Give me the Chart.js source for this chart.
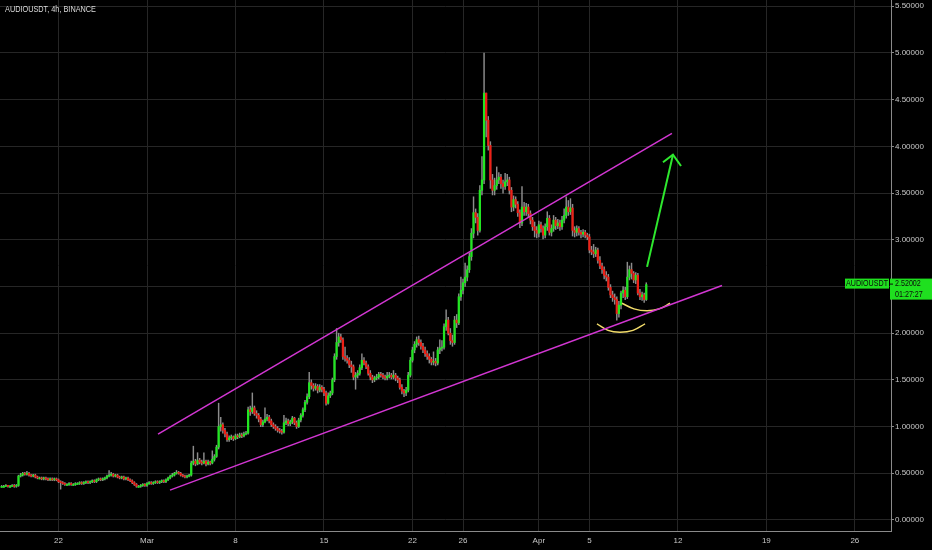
<!DOCTYPE html>
<html>
<head>
<meta charset="utf-8">
<script src="https://cdn.jsdelivr.net/npm/chart.js@4.4.1/dist/chart.umd.min.js"></script>
<style>
  html, body { margin: 0; padding: 0; background: #000; }
  #wrap { position: relative; width: 932px; height: 550px; }
  #title { position: absolute; left: 5px; top: 4px; color: #dcdcdc; font: 8.5px "Liberation Sans", sans-serif; transform: scaleX(0.86); transform-origin: left top; white-space: nowrap; }
</style>
</head>
<body>
<div id="wrap">
  <canvas id="chart" width="932" height="550"></canvas>
  <div id="title">AUDIOUSDT, 4h, BINANCE</div>
</div>
<script>
// days counted from Mar 1 (0 = Mar 1), one candle every 4h
var firstDay = -11.5;
var firstOpen = 0.36;

// 4h closes, one row = one day
var closes = [
  0.36,0.36,0.37,0.36,0.36,0.37,
  0.36,0.37,0.47,0.48,0.50,0.49,
  0.50,0.48,0.47,0.48,0.46,0.45,
  0.45,0.44,0.45,0.44,0.43,0.44,
  0.43,0.44,0.43,0.41,0.40,0.39,
  0.38,0.38,0.39,0.38,0.38,0.39,
  0.39,0.40,0.39,0.40,0.41,0.40,
  0.41,0.42,0.41,0.43,0.44,0.43,
  0.44,0.45,0.47,0.48,0.49,0.47,
  0.48,0.46,0.45,0.46,0.44,0.45,
  0.43,0.42,0.40,0.38,0.36,0.36,
  0.37,0.38,0.37,0.39,0.40,0.39,
  0.40,0.41,0.40,0.41,0.42,0.41,
  0.43,0.45,0.47,0.48,0.50,0.51,
  0.50,0.48,0.47,0.46,0.47,0.48,
  0.61,0.63,0.60,0.64,0.62,0.61,
  0.63,0.60,0.62,0.61,0.65,0.68,
  0.78,1.00,1.02,0.96,0.92,0.86,
  0.88,0.89,0.87,0.90,0.89,0.91,
  0.90,0.92,0.93,1.18,1.16,1.20,
  1.14,1.12,1.08,1.02,1.05,1.08,
  1.10,1.06,1.02,1.00,0.98,0.96,
  0.95,0.94,1.04,1.06,1.03,1.05,
  1.09,1.04,1.00,1.07,1.12,1.18,
  1.26,1.32,1.47,1.44,1.41,1.43,
  1.39,1.42,1.40,1.36,1.25,1.33,
  1.36,1.50,1.75,1.90,1.96,1.93,
  1.75,1.73,1.71,1.66,1.64,1.53,
  1.55,1.57,1.63,1.71,1.68,1.64,
  1.57,1.53,1.50,1.52,1.53,1.56,
  1.55,1.53,1.52,1.54,1.55,1.53,
  1.55,1.52,1.50,1.42,1.38,1.36,
  1.39,1.55,1.71,1.82,1.88,1.93,
  1.90,1.86,1.82,1.78,1.75,1.72,
  1.69,1.70,1.68,1.82,1.84,1.85,
  2.07,2.14,2.00,1.92,1.90,2.14,
  2.11,2.39,2.46,2.54,2.60,2.68,
  2.82,3.07,3.29,3.24,3.10,3.53,
  3.64,4.57,4.28,4.01,3.64,3.53,
  3.58,3.64,3.67,3.60,3.57,3.62,
  3.64,3.53,3.35,3.43,3.38,3.29,
  3.18,3.35,3.30,3.35,3.28,3.21,
  3.14,3.10,3.07,3.16,3.12,3.05,
  3.14,3.23,3.08,3.12,3.21,3.15,
  3.18,3.14,3.21,3.26,3.35,3.30,
  3.34,3.10,3.08,3.12,3.08,3.06,
  3.08,3.05,3.03,2.89,2.87,2.85,
  2.89,2.78,2.72,2.68,2.62,2.60,
  2.49,2.41,2.38,2.36,2.21,2.30,
  2.43,2.46,2.39,2.60,2.68,2.64,
  2.57,2.62,2.43,2.39,2.41,2.36,
  2.52
];

var highs = [
  0.37,0.37,0.38,0.37,0.37,0.38,
  0.38,0.38,0.48,0.50,0.51,0.51,
  0.52,0.51,0.49,0.49,0.49,0.47,
  0.46,0.46,0.46,0.46,0.45,0.45,
  0.45,0.45,0.45,0.44,0.42,0.41,
  0.40,0.39,0.40,0.40,0.39,0.40,
  0.40,0.41,0.41,0.41,0.42,0.42,
  0.42,0.43,0.43,0.44,0.45,0.45,
  0.45,0.46,0.48,0.53,0.51,0.50,
  0.49,0.49,0.47,0.47,0.47,0.46,
  0.46,0.44,0.43,0.41,0.39,0.37,
  0.38,0.39,0.39,0.40,0.41,0.41,
  0.41,0.42,0.42,0.42,0.43,0.43,
  0.44,0.46,0.48,0.50,0.51,0.53,
  0.52,0.51,0.49,0.48,0.48,0.49,
  0.63,0.79,0.65,0.72,0.66,0.64,
  0.72,0.64,0.64,0.63,0.74,0.70,
  0.80,1.25,1.10,1.04,0.98,0.94,
  0.90,0.91,0.90,0.92,0.92,0.93,
  0.93,0.94,0.95,1.21,1.22,1.36,
  1.22,1.17,1.14,1.10,1.07,1.20,
  1.13,1.12,1.08,1.04,1.02,1.00,
  0.98,0.97,1.12,1.09,1.08,1.07,
  1.11,1.10,1.06,1.09,1.14,1.20,
  1.28,1.35,1.58,1.50,1.46,1.46,
  1.45,1.45,1.44,1.42,1.38,1.36,
  1.38,1.52,1.78,2.05,2.00,1.99,
  1.95,1.85,1.76,1.74,1.70,1.66,
  1.58,1.60,1.66,1.78,1.74,1.70,
  1.66,1.60,1.55,1.54,1.56,1.58,
  1.58,1.57,1.55,1.58,1.58,1.57,
  1.60,1.57,1.54,1.52,1.45,1.40,
  1.42,1.58,1.74,1.85,1.91,1.96,
  1.97,1.93,1.89,1.85,1.81,1.78,
  1.74,1.80,1.73,1.85,1.93,1.92,
  2.10,2.25,2.17,2.05,1.98,2.18,
  2.20,2.42,2.60,2.58,2.75,2.72,
  2.86,3.12,3.46,3.33,3.28,3.58,
  3.89,5.00,4.57,4.32,4.05,3.70,
  3.66,3.78,3.72,3.70,3.64,3.71,
  3.70,3.67,3.56,3.47,3.46,3.41,
  3.32,3.57,3.40,3.39,3.38,3.31,
  3.24,3.19,3.14,3.20,3.19,3.15,
  3.17,3.30,3.26,3.16,3.26,3.24,
  3.22,3.21,3.25,3.33,3.46,3.42,
  3.44,3.38,3.14,3.15,3.14,3.10,
  3.11,3.10,3.07,3.06,2.93,2.95,
  2.92,2.91,2.82,2.75,2.71,2.66,
  2.63,2.52,2.45,2.42,2.39,2.34,
  2.45,2.50,2.49,2.76,2.72,2.75,
  2.66,2.65,2.64,2.47,2.44,2.43,
  2.54
];

var lows = [
  0.35,0.35,0.36,0.35,0.35,0.36,
  0.35,0.35,0.36,0.46,0.47,0.48,
  0.48,0.47,0.46,0.46,0.45,0.44,
  0.44,0.43,0.43,0.43,0.42,0.42,
  0.42,0.42,0.42,0.40,0.33,0.38,
  0.37,0.37,0.37,0.37,0.37,0.37,
  0.38,0.38,0.38,0.38,0.39,0.39,
  0.39,0.40,0.40,0.40,0.42,0.42,
  0.42,0.43,0.44,0.46,0.47,0.46,
  0.46,0.45,0.44,0.44,0.43,0.43,
  0.42,0.41,0.39,0.37,0.35,0.35,
  0.35,0.36,0.36,0.36,0.38,0.38,
  0.38,0.39,0.39,0.39,0.40,0.40,
  0.40,0.42,0.44,0.46,0.47,0.49,
  0.49,0.47,0.46,0.45,0.45,0.46,
  0.47,0.59,0.58,0.59,0.60,0.59,
  0.60,0.58,0.59,0.59,0.60,0.63,
  0.67,0.76,0.95,0.93,0.89,0.84,
  0.84,0.86,0.85,0.86,0.87,0.88,
  0.88,0.89,0.91,0.92,1.12,1.14,
  1.12,1.09,1.05,1.00,1.00,1.04,
  1.06,1.04,1.00,0.98,0.96,0.94,
  0.93,0.92,0.93,1.02,1.01,1.01,
  1.03,1.02,0.98,0.99,1.05,1.10,
  1.16,1.24,1.30,1.40,1.38,1.39,
  1.36,1.37,1.37,1.33,1.23,1.24,
  1.31,1.34,1.48,1.72,1.86,1.90,
  1.72,1.70,1.68,1.63,1.58,1.50,
  1.40,1.52,1.55,1.61,1.66,1.62,
  1.55,1.50,1.47,1.48,1.50,1.51,
  1.53,1.51,1.50,1.50,1.52,1.51,
  1.51,1.49,1.47,1.40,1.35,1.32,
  1.33,1.37,1.53,1.69,1.79,1.85,
  1.87,1.83,1.79,1.75,1.72,1.68,
  1.66,1.66,1.65,1.66,1.78,1.81,
  1.83,2.03,1.98,1.88,1.86,1.88,
  2.06,2.09,2.35,2.42,2.50,2.56,
  2.65,2.78,3.02,3.18,3.05,3.08,
  3.48,3.60,4.10,3.96,3.55,3.48,
  3.48,3.54,3.60,3.55,3.50,3.54,
  3.58,3.49,3.30,3.31,3.34,3.25,
  3.13,3.15,3.26,3.26,3.24,3.17,
  3.10,3.03,3.02,3.03,3.08,3.01,
  3.02,3.10,3.05,3.04,3.09,3.11,
  3.12,3.10,3.11,3.18,3.23,3.26,
  3.27,3.04,3.03,3.04,3.05,3.02,
  3.03,3.02,3.00,2.86,2.84,2.81,
  2.82,2.75,2.69,2.64,2.58,2.56,
  2.46,2.38,2.34,2.31,2.14,2.17,
  2.26,2.38,2.36,2.37,2.57,2.58,
  2.54,2.53,2.41,2.36,2.35,2.33,
  2.35
];

// axis ticks
var xTickDays = [-7, 0, 7, 14, 21, 25, 31, 35, 42, 49, 56];
var xTickLabels = ['22', 'Mar', '8', '15', '22', '26', 'Apr', '5', '12', '19', '26'];
var yTickValues = [0, 0.5, 1, 1.5, 2, 2.5, 3, 3.5, 4, 4.5, 5, 5.5];

// drawings (day, price)
var upperChannel = [[0.87, 0.92], [41.53, 4.14]];
var lowerChannel = [[1.82, 0.32], [45.49, 2.51]];
var arrowShaft = [[39.56, 2.71], [41.61, 3.91]];
var arrowHead = [[40.82, 3.83], [41.61, 3.91], [42.25, 3.79]];
var upperArc = [[37.58, 2.32], [38.53, 2.26], [39.56, 2.24], [40.51, 2.26], [41.38, 2.32]];
var lowerArc = [[35.60, 2.10], [36.47, 2.03], [37.42, 2.01], [38.45, 2.03], [39.40, 2.10]];

var symbolName = 'AUDIOUSDT';
var lastPriceText = '2.52002';
var countdownText = '01:27:27';

var upColor = '#22e622';
var downColor = '#ee2016';
var labelFont = '"Liberation Sans", sans-serif';

var bodies = [], wicks = [], bodyColors = [];
closes.forEach(function (c, i) {
    var o = i === 0 ? firstOpen : closes[i - 1];
    var x = firstDay + i / 6;
    bodies.push({ x: x, y: [o, c] });
    wicks.push({ x: x, y: [lows[i], highs[i]] });
    bodyColors.push(c >= o ? upColor : downColor);
});

function pts(arr) {
    return arr.map(function (p) { return { x: p[0], y: p[1] }; });
}

function lineSet(arr, color, width, tension) {
    return {
        type: 'line',
        data: pts(arr),
        borderColor: color,
        borderWidth: width,
        pointRadius: 0,
        tension: tension || 0,
        fill: false,
        order: 0
    };
}

// narrow text: draw scaled horizontally
function narrowText(ctx, text, x, y, align) {
    ctx.save();
    ctx.translate(x, y);
    ctx.scale(0.84, 1);
    ctx.textAlign = align;
    ctx.fillText(text, 0, 0);
    ctx.restore();
}

var priceLabel = {
    id: 'priceLabel',
    afterDraw: function (chart) {
        var ctx = chart.ctx;
        var area = chart.chartArea;
        var py = chart.scales.y.getPixelForValue(closes[closes.length - 1]);
        ctx.save();
        ctx.fillStyle = '#1fe01f';
        ctx.fillRect(area.right - 46, py - 6, 44, 10);
        ctx.fillRect(area.right - 1, py - 6, 42, 21);
        ctx.fillStyle = '#0c0c0c';
        ctx.font = '8.5px ' + labelFont;
        ctx.textBaseline = 'middle';
        narrowText(ctx, symbolName, area.right - 24, py - 0.5, 'center');
        narrowText(ctx, lastPriceText, area.right + 4, py - 0.5, 'left');
        narrowText(ctx, countdownText, area.right + 4, py + 10, 'left');
        ctx.fillRect(area.right - 1, py - 1, 3, 1);
        ctx.restore();
    }
};

var gridColor = '#262626';
var axisColor = '#8a8a8a';
var labelColor = '#c8c8c8';

new Chart(document.getElementById('chart'), {
    type: 'bar',
    data: {
        datasets: [
            lineSet(upperChannel, '#d236d2', 1.5),
            lineSet(lowerChannel, '#d236d2', 1.5),
            lineSet(arrowShaft, '#2ee82e', 2),
            lineSet(arrowHead, '#2ee82e', 2),
            lineSet(upperArc, '#f2dc6a', 1.5, 0.4),
            lineSet(lowerArc, '#f2dc6a', 1.5, 0.4),
            {
                type: 'bar',
                data: bodies,
                backgroundColor: bodyColors,
                barThickness: 1.6,
                minBarLength: 1,
                grouped: false,
                order: 1
            },
            {
                type: 'bar',
                data: wicks,
                backgroundColor: '#8c8c8c',
                barThickness: 0.8,
                grouped: false,
                order: 2
            }
        ]
    },
    options: {
        responsive: false,
        animation: false,
        events: [],
        layout: { padding: 0 },
        plugins: {
            legend: { display: false },
            tooltip: { enabled: false }
        },
        scales: {
            x: {
                type: 'linear',
                position: 'bottom',
                offset: false,
                min: -11.63,
                max: 58.86,
                grid: { color: gridColor, offset: false, tickLength: 0 },
                border: { color: axisColor },
                afterBuildTicks: function (scale) {
                    scale.ticks = xTickDays.map(function (v) { return { value: v }; });
                },
                afterFit: function (scale) {
                    scale.height = 19;
                    scale.paddingLeft = 0;
                    scale.paddingRight = 0;
                },
                ticks: {
                    autoSkip: false,
                    maxRotation: 0,
                    padding: 5,
                    color: labelColor,
                    font: { family: labelFont, size: 8 },
                    callback: function (v) {
                        var k = xTickDays.indexOf(v);
                        return k >= 0 ? xTickLabels[k] : '';
                    }
                }
            },
            y: {
                position: 'right',
                min: -0.118,
                max: 5.567,
                grid: { color: gridColor, tickLength: 3, tickColor: axisColor },
                border: { color: axisColor },
                afterBuildTicks: function (scale) {
                    scale.ticks = yTickValues.map(function (v) { return { value: v }; });
                },
                afterFit: function (scale) {
                    scale.width = 41;
                    scale.paddingTop = 0;
                    scale.paddingBottom = 0;
                },
                ticks: {
                    padding: 1,
                    color: labelColor,
                    font: { family: labelFont, size: 8 },
                    callback: function (v) { return Number(v).toFixed(5); }
                }
            }
        }
    },
    plugins: [priceLabel]
});
</script>
</body>
</html>
